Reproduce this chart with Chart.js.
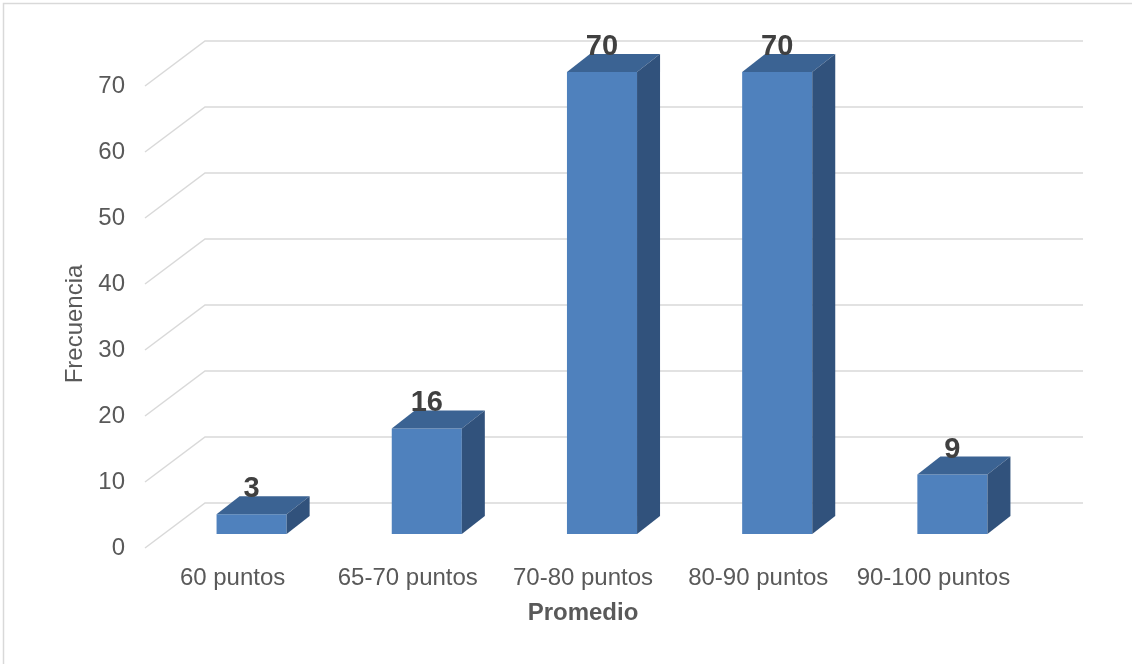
<!DOCTYPE html>
<html>
<head>
<meta charset="utf-8">
<script src="https://cdn.jsdelivr.net/npm/chart.js@4/dist/chart.umd.min.js"></script>
<style>
    body { margin: 0; background: #fff; }
    #wrap { width: 1132px; height: 664px; position: relative; }
</style>
</head>
<body>
<div id="wrap"><canvas id="barras"></canvas></div>
<script>
var categorias = ["60 puntos", "65-70 puntos", "70-80 puntos", "80-90 puntos", "90-100 puntos"];
var frecuencias = [3, 16, 70, 70, 9];
var ticksY = [0, 10, 20, 30, 40, 50, 60, 70];

// fake 3D: depth of each bar and of the whole floor/back wall
var fondoBarra = { dx: 23, dy: -18 };
var paredAtras = { dx: 60, dy: -45, frente: 14 };   // floor front edge sits 14px under bar plane
var colorFrente = "#4f81bd";
var colorTapa = "#3b6393";
var colorLado = "#31527c";
var colorGrid = "#d9d9d9";
var colorTexto = "#595959";

var cubo3d = {
    id: "cubo3d",
    beforeDraw: function(chart) {
        var ctx = chart.ctx;
        ctx.save();
        ctx.fillStyle = "#fff";
        ctx.fillRect(0, 0, chart.width, chart.height);
        ctx.strokeStyle = colorGrid;
        ctx.lineWidth = 1.5;
        ctx.strokeRect(3.5, 3.5, chart.width + 20, chart.height + 20);
        ctx.restore();
    },
    beforeDatasetsDraw: function(chart) {
        var ctx = chart.ctx;
        var y = chart.scales.y;
        var area = chart.chartArea;
        var x0 = area.left - 19;           // front-left corner of the floor
        var xAtras = x0 + paredAtras.dx;
        var xFin = area.right + 43;
        ctx.save();
        ctx.strokeStyle = colorGrid;
        ctx.lineWidth = 1.5;
        ticksY.forEach(function(v) {
            var py = y.getPixelForValue(v) + paredAtras.frente;
            ctx.beginPath();
            ctx.moveTo(x0, py);
            ctx.lineTo(xAtras, py + paredAtras.dy);
            ctx.lineTo(xFin, py + paredAtras.dy);
            ctx.stroke();
        });
        ctx.restore();
    },
    afterDatasetsDraw: function(chart) {
        var ctx = chart.ctx;
        var meta = chart.getDatasetMeta(0);
        ctx.save();
        meta.data.forEach(function(bar, i) {
            var p = bar.getProps(["x", "y", "base", "width"], true);
            var izq = p.x - p.width / 2;
            var der = p.x + p.width / 2;
            var dx = fondoBarra.dx, dy = fondoBarra.dy;

            ctx.fillStyle = colorTapa;
            ctx.beginPath();
            ctx.moveTo(izq, p.y);
            ctx.lineTo(der, p.y);
            ctx.lineTo(der + dx, p.y + dy);
            ctx.lineTo(izq + dx, p.y + dy);
            ctx.closePath();
            ctx.fill();

            ctx.fillStyle = colorLado;
            ctx.beginPath();
            ctx.moveTo(der, p.y);
            ctx.lineTo(der, p.base);
            ctx.lineTo(der + dx, p.base + dy);
            ctx.lineTo(der + dx, p.y + dy);
            ctx.closePath();
            ctx.fill();

            // value label sits on the back edge of the top face
            ctx.fillStyle = "#404040";
            ctx.font = "bold 29px 'Liberation Sans', Arial, sans-serif";
            ctx.textAlign = "center";
            ctx.textBaseline = "alphabetic";
            ctx.fillText(String(frecuencias[i]), p.x, p.y + dy + 1);
        });

        // axis titles, centred on the floor front rather than the bar plane
        var area = chart.chartArea;
        ctx.fillStyle = colorTexto;
        ctx.font = "bold 24px 'Liberation Sans', Arial, sans-serif";
        ctx.textAlign = "center";
        ctx.textBaseline = "middle";
        ctx.fillText("Promedio", (area.left + area.right) / 2 - 19, 613);

        ctx.font = "24px 'Liberation Sans', Arial, sans-serif";
        ctx.translate(75, 324);
        ctx.rotate(-Math.PI / 2);
        ctx.fillText("Frecuencia", 0, 0);
        ctx.restore();
    }
};

var grafico = new Chart(document.getElementById("barras"), {
    type: "bar",
    data: {
        labels: categorias,
        datasets: [{
            label: "Frecuencia",
            data: frecuencias,
            backgroundColor: colorFrente,
            borderWidth: 0,
            barPercentage: 0.4,
            categoryPercentage: 1.0
        }]
    },
    options: {
        responsive: true,
        maintainAspectRatio: false,
        animation: false,
        layout: { padding: { top: 72, right: 92, left: 0, bottom: 0 } },
        plugins: {
            legend: { display: false },
            tooltip: { enabled: false }
        },
        scales: {
            x: {
                grid: { display: false, drawTicks: false },
                border: { display: false },
                ticks: {
                    color: colorTexto,
                    font: { family: "'Liberation Sans', Arial, sans-serif", size: 24 },
                    padding: 30,
                    labelOffset: -19,
                    maxRotation: 0,
                    autoSkip: false
                },
                afterFit: function(s) { s.height = 130; }
            },
            y: {
                min: 0,
                max: 70,
                grid: { display: false, drawTicks: false },
                border: { display: false },
                ticks: {
                    stepSize: 10,
                    color: colorTexto,
                    font: { family: "'Liberation Sans', Arial, sans-serif", size: 24 },
                    padding: 39,
                    labelOffset: 14
                },
                afterFit: function(s) { s.width = 164; }
            }
        }
    },
    plugins: [cubo3d]
});
</script>
</body>
</html>
